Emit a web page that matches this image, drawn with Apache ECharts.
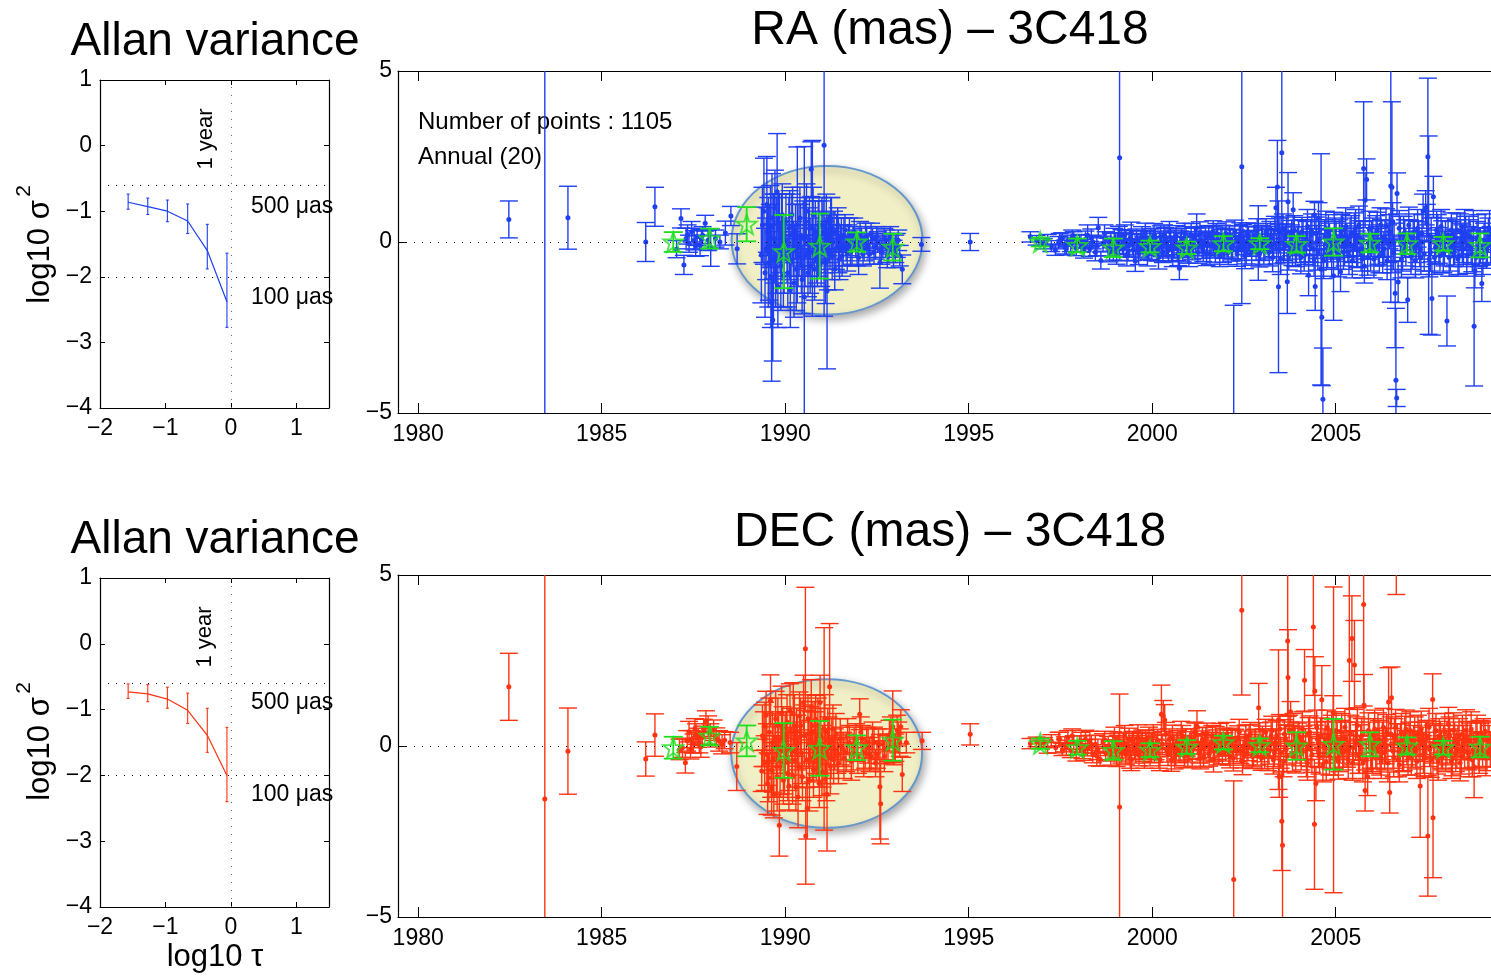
<!DOCTYPE html>
<html><head><meta charset="utf-8">
<script src="https://cdn.jsdelivr.net/npm/echarts@6/dist/echarts.min.js"></script>
<style>html,body{margin:0;padding:0;background:#fff}#c{width:1491px;height:978px}</style>
</head><body><div id="c"></div>
<script>
const FONT = '"Liberation Sans", Arial, Helvetica, sans-serif';

// ---------- Allan variance panels ----------
const allanTau   = [-1.57, -1.27, -0.97, -0.66, -0.36, -0.06];
const raAllanV   = [-0.864, -0.93, -1.00, -1.15, -1.60, -2.38];
const raAllanLo  = [-0.97, -1.05, -1.16, -1.34, -1.88, -2.77];
const raAllanHi  = [-0.74, -0.80, -0.83, -0.89, -1.20, -1.64];
const decAllanV  = [-0.73, -0.76, -0.84, -1.01, -1.39, -2.00];
const decAllanLo = [-0.83, -0.88, -0.98, -1.21, -1.65, -2.40];
const decAllanHi = [-0.61, -0.62, -0.66, -0.75, -0.98, -1.27];
const allanXTicks = [-2, -1, 0, 1];
const allanRefLevels = [-0.6, -2];   // 500 uas, 100 uas
const yearTicks = [1980, 1985, 1990, 1995, 2000, 2005];

// ---------- RA time series: [year, value(mas), error(mas)] ----------
const raEarly = [
[1982.47,0.66,0.54],[1983.45,-7.0,14.0],[1984.08,0.71,0.92],[1986.20,0.00,0.57],[1986.45,1.03,0.57],
[1987.04,-0.21,0.25],[1987.16,0.69,0.28],[1987.24,-0.67,0.28],[1987.30,0.10,0.30],[1987.38,-0.05,0.25],
[1987.45,0.30,0.30],[1987.52,0.05,0.28],[1987.60,0.15,0.25],[1987.68,-0.10,0.30],[1987.75,0.20,0.25],
[1987.82,0.55,0.23],[1987.90,0.05,0.30],[1987.97,-0.16,0.55],[1988.10,0.10,0.25],[1988.22,0.00,0.20],
[1988.37,0.26,0.35],[1988.52,0.76,0.28],[1988.69,-0.20,0.44],[1987.34,0.22,0.28],[1987.56,-0.12,0.3],[1987.72,0.08,0.28]
];
const raMid = [
[1989.35,-0.38,1.40],[1989.42,0.90,1.55],[1989.48,-0.20,0.90],[1989.52,0.30,0.70],[1989.56,-0.60,1.10],
[1989.60,0.45,1.20],[1989.63,-1.77,2.30],[1989.66,-2.28,1.20],[1989.70,0.10,1.30],[1989.74,-0.90,1.00],
[1989.78,1.47,1.70],[1989.82,0.60,0.80],[1989.86,-0.30,0.60],[1989.90,0.20,1.20],[1989.95,-1.00,0.90],
[1990.00,0.00,0.50],[1990.05,-0.50,0.70],[1990.10,0.40,0.90],[1990.14,-1.40,1.10],[1990.18,0.80,0.60],
[1990.22,-0.20,0.80],[1990.26,0.10,0.40],[1990.30,-0.80,1.20],[1990.33,0.50,2.28],[1990.38,-0.40,0.60],
[1990.42,0.20,0.90],[1990.46,-1.10,1.00],[1990.52,-1.61,4.40],[1990.56,0.60,0.70],[1990.60,-0.30,0.50],
[1990.64,0.00,1.00],[1990.68,-0.70,0.80],[1990.71,2.13,0.80],[1990.74,0.40,2.57],[1990.78,-0.10,0.60],
[1990.82,0.30,0.90],[1990.86,-0.50,0.70],[1990.90,0.10,1.10],[1990.95,-0.20,0.40],[1991.00,0.50,0.80],
[1991.06,2.83,5.00],[1991.10,-0.60,1.20],[1991.14,-1.43,2.28],[1991.18,0.20,0.60],[1991.22,-0.30,0.50],
[1991.26,0.40,0.90],[1991.30,0.00,0.70],[1991.35,-0.80,0.60],[1991.40,0.30,0.50],[1991.45,-0.10,0.80],
[1991.50,0.10,0.40],[1991.55,-0.40,0.60],[1991.60,0.20,0.50],[1991.66,-0.20,0.35],[1991.72,0.05,0.45],
[1991.78,-0.30,0.40],[1991.85,0.15,0.30],[1991.92,-0.10,0.35],[1992.00,-0.45,0.50],[1992.08,0.10,0.30],
[1992.15,-0.20,0.35],[1992.22,0.05,0.40],[1992.30,-0.35,0.30],[1992.38,0.10,0.30],[1992.46,-0.15,0.35],
[1992.52,0.00,0.30],[1992.58,-0.60,0.75],[1992.66,-0.10,0.35],[1992.74,0.05,0.30],[1992.82,-0.25,0.35],
[1992.90,-0.05,0.30],[1993.00,-0.20,0.40],[1993.08,0.05,0.30],[1993.19,-0.80,0.42],[1993.71,-0.07,0.20],
[1995.04,0.00,0.25]
];
const raMid2 = [
[1989.38,0.5,1.1],[1989.45,-0.9,1.3],[1989.5,1.1,1.4],[1989.54,-0.3,1.6],[1989.58,0.2,0.9],[1989.61,-1.0,1.5],
[1989.64,0.7,1.3],[1989.68,-0.5,1.9],[1989.72,1.0,1.1],[1989.76,-0.1,1.4],[1989.8,-1.3,1.2],[1989.84,0.4,1.0],
[1989.88,-0.7,1.3],[1989.92,0.8,0.9],[1989.97,-0.4,1.1],[1990.02,0.6,0.8],[1990.07,-0.9,1.0],[1990.12,0.2,1.3],
[1990.16,-0.6,0.9],[1990.2,0.5,1.1],[1990.24,-1.2,1.0],[1990.28,0.3,0.8],[1990.35,-0.1,1.2],[1990.4,0.7,0.9],
[1990.44,-0.7,0.8],[1990.49,0.1,1.1],[1990.54,-0.4,0.9],[1990.58,0.9,0.8],[1990.62,-0.9,0.7],[1990.66,0.4,0.9],
[1990.7,-0.3,1.0],[1990.76,0.8,0.8],[1990.8,-0.8,0.9],[1990.84,0.2,0.7],[1990.88,-0.4,0.9],[1990.92,0.5,0.8],
[1990.98,-0.6,0.7],[1991.03,0.3,0.9],[1991.08,-0.2,0.7],[1991.12,0.6,0.8],[1991.16,-0.5,0.9],[1991.2,0.1,0.7],
[1991.24,0.7,0.6],[1991.28,-0.4,0.7],[1991.33,0.3,0.6],[1991.38,-0.2,0.6],[1991.43,0.5,0.5],[1991.48,-0.5,0.6],
[1991.53,0.2,0.5],[1991.58,-0.1,0.6],[1991.63,0.35,0.45],[1991.69,-0.35,0.5],[1991.75,0.25,0.45],[1991.82,-0.15,0.5],
[1991.88,0.3,0.4],[1991.96,-0.25,0.45],[1992.04,0.2,0.4],[1992.12,-0.35,0.35],[1992.19,0.15,0.4],[1992.26,-0.1,0.35],
[1992.34,0.25,0.3],[1992.42,-0.3,0.35],[1992.49,0.15,0.3],[1992.62,-0.3,0.35],[1992.7,0.1,0.3],[1992.78,-0.4,0.35],
[1992.86,0.15,0.3],[1992.95,-0.35,0.4],[1993.04,-0.1,0.35],[1993.12,-0.4,0.3]
];
const raLate = [
[1996.68,0.15,0.15],[1996.85,0.05,0.14],[1996.95,0.00,0.12],
[1997.05,-0.05,0.15],[1997.15,0.08,0.14],[1997.25,-0.12,0.16],[1997.36,-0.24,0.15],[1997.45,-0.02,0.18],[1997.55,0.10,0.17],[1997.62,-0.15,0.20],[1997.70,0.04,0.16],[1997.78,-0.08,0.20],[1997.86,0.12,0.18],[1997.93,-0.18,0.22],
[1998.02,0.02,0.20],[1998.10,-0.10,0.18],[1998.18,0.08,0.24],[1998.24,0.20,0.30],[1998.30,-0.20,0.22],[1998.38,0.00,0.20],[1998.45,-0.30,0.25],[1998.53,0.42,0.30],[1998.60,-0.54,0.25],[1998.66,-0.05,0.22],[1998.73,0.10,0.20],[1998.80,-0.15,0.26],[1998.87,0.05,0.22],[1998.94,-0.25,0.28],
[1999.00,0.00,0.25],[1999.06,-0.12,0.22],[1999.11,2.46,3.00],[1999.16,0.10,0.26],[1999.22,-0.20,0.24],[1999.28,0.05,0.28],[1999.34,-0.30,0.25],[1999.40,0.12,0.22],[1999.46,-0.08,0.30],[1999.54,-0.56,0.30],[1999.60,0.00,0.25],[1999.66,-0.18,0.26],[1999.72,0.15,0.30],[1999.78,-0.10,0.24],[1999.84,0.05,0.28],[1999.90,-0.25,0.26],[1999.96,0.08,0.30],
[2000.02,-0.12,0.28],[2000.08,0.10,0.30],[2000.14,-0.30,0.26],[2000.20,0.00,0.32],[2000.26,-0.15,0.28],[2000.32,0.20,0.30],[2000.38,-0.05,0.34],[2000.44,-0.25,0.30],[2000.50,0.12,0.28],[2000.56,-0.40,0.32],[2000.62,0.05,0.30],[2000.68,-0.20,0.34],[2000.74,-0.77,0.33],[2000.80,0.10,0.30],[2000.86,-0.10,0.36],[2000.92,0.15,0.30],[2000.97,-0.30,0.32],
[2001.03,0.00,0.30],[2001.09,-0.18,0.34],[2001.15,0.12,0.32],[2001.21,0.42,0.40],[2001.27,-0.10,0.30],[2001.33,0.05,0.36],[2001.39,-0.25,0.32],[2001.45,0.15,0.30],[2001.51,-0.05,0.34],[2001.57,-0.35,0.30],[2001.63,0.10,0.36],[2001.69,-0.15,0.32],[2001.75,0.20,0.34],[2001.81,-0.08,0.30],[2001.87,0.00,0.36],[2001.93,-0.28,0.32],[2001.98,0.10,0.30],
[2002.04,-0.10,0.34],[2002.10,0.15,0.32],[2002.16,-0.20,0.36],[2002.22,-6.20,4.35],[2002.28,0.05,0.30],[2002.34,-0.15,0.34],[2002.40,0.20,0.36],[2002.44,2.20,4.00],[2002.50,-0.05,0.32],[2002.56,-0.30,0.34],[2002.62,0.10,0.36],[2002.68,-0.12,0.30],[2002.74,0.00,0.34],[2002.80,0.18,0.36],[2002.89,-0.03,1.09],[2002.95,-0.20,0.34],
[2003.01,0.05,0.36],[2003.07,-0.15,0.38],[2003.13,0.20,0.34],[2003.19,-0.30,0.40],[2003.25,0.10,0.36],[2003.31,-0.05,0.38],[2003.37,1.00,0.60],[2003.41,1.61,1.36],[2003.44,-1.31,2.51],[2003.48,0.30,0.40],[2003.53,2.61,2.60],[2003.58,-0.20,0.40],[2003.63,0.15,0.38],[2003.68,-1.16,0.93],[2003.70,1.18,0.85],[2003.75,-0.10,0.40],[2003.80,0.25,0.38],[2003.84,0.94,0.50],[2003.90,-0.30,0.42],[2003.96,0.05,0.40],
[2004.02,-0.15,0.45],[2004.08,0.30,0.42],[2004.14,-0.40,0.45],[2004.20,0.10,0.50],[2004.26,-0.97,0.60],[2004.32,0.20,0.45],[2004.38,-0.20,0.50],[2004.42,0.79,0.40],[2004.44,-1.30,0.70],[2004.48,0.00,0.48],[2004.53,0.70,0.45],[2004.60,-0.80,3.38],[2004.62,-2.20,2.00],[2004.65,-4.60,1.50],[2004.70,0.15,0.50],[2004.75,-0.35,0.45],[2004.80,0.30,0.50],[2004.86,-0.10,0.48],[2004.94,-0.99,1.30],[2004.98,0.20,0.50],
[2005.04,-0.30,0.50],[2005.10,0.10,0.55],[2005.13,-0.87,0.58],[2005.18,0.35,0.50],[2005.24,-0.15,0.55],[2005.30,0.05,0.50],[2005.36,-0.40,0.55],[2005.42,0.25,0.52],[2005.48,-0.10,0.50],[2005.54,0.40,0.55],[2005.60,-0.25,0.50],[2005.66,0.10,0.52],[2005.72,-0.50,0.55],[2005.76,2.15,1.95],[2005.78,-0.70,0.50],[2005.80,1.22,0.80],[2005.84,1.83,0.60],[2005.90,0.00,0.50],[2005.95,-0.30,0.55],
[2006.01,0.20,0.50],[2006.07,-0.15,0.55],[2006.13,0.35,0.52],[2006.19,-0.40,0.50],[2006.25,0.10,0.55],[2006.31,-0.20,0.50],[2006.37,0.45,0.52],[2006.43,-0.05,0.55],[2006.50,1.64,3.40],[2006.53,1.60,2.50],[2006.57,-0.30,0.50],[2006.62,-1.50,1.59],[2006.64,-4.04,2.10],[2006.66,-4.56,0.25],[2006.67,1.42,0.60],[2006.70,-1.17,0.60],[2006.76,0.20,0.55],[2006.82,-0.35,0.50],[2006.88,0.10,0.55],[2006.96,-1.69,0.66],
[2007.02,0.15,0.50],[2007.08,-0.25,0.55],[2007.14,0.30,0.52],[2007.20,-0.10,0.50],[2007.26,0.05,0.55],[2007.32,-0.45,0.50],[2007.38,0.90,0.50],[2007.45,1.00,0.50],[2007.51,2.49,2.30],[2007.53,0.20,2.90],[2007.58,-0.30,0.55],[2007.62,-1.65,1.07],[2007.66,1.32,0.60],[2007.72,-0.15,0.50],[2007.78,0.25,0.55],[2007.84,-0.40,0.50],[2007.90,0.10,0.52],[2007.96,-0.20,0.50],
[2008.03,-2.31,0.73],[2008.06,0.20,0.50],[2008.12,-0.30,0.55],[2008.18,0.10,0.50],[2008.24,-0.15,0.52],[2008.30,0.35,0.50],[2008.36,-0.40,0.55],[2008.42,0.05,0.50],[2008.48,-0.20,0.52],[2008.54,0.25,0.50],[2008.60,-0.10,0.55],[2008.66,0.15,0.50],[2008.72,-0.35,0.52],[2008.77,-2.46,1.75],[2008.79,-0.84,0.50],[2008.85,0.10,0.50],[2008.91,-0.20,0.52],[2008.98,-1.21,0.53],
[2009.04,0.05,0.50],[2009.10,-0.25,0.52],[2009.16,0.20,0.50],[2009.22,-0.10,0.55]
];
const raLate2 = [
[1997.48,0.05,0.2],[1997.66,-0.2,0.18],[1997.82,0.15,0.2],[1998.06,-0.05,0.25],[1998.14,-0.25,0.22],[1998.34,0.12,0.26],[1998.49,-0.12,0.28],[1998.7,0.25,0.25],[1998.84,-0.3,0.28],[1998.97,0.1,0.3],
[1999.03,-0.35,0.3],[1999.09,0.18,0.28],[1999.19,-0.05,0.32],[1999.25,0.2,0.3],[1999.31,-0.4,0.3],[1999.37,-0.1,0.34],[1999.43,0.28,0.3],[1999.49,-0.22,0.32],[1999.57,0.08,0.3],[1999.63,-0.32,0.34],[1999.69,0.02,0.3],[1999.75,-0.15,0.32],[1999.81,0.25,0.3],[1999.87,-0.38,0.32],[1999.93,0.0,0.3],[1999.99,-0.2,0.34],
[2000.05,0.22,0.32],[2000.11,-0.05,0.3],[2000.17,-0.45,0.34],[2000.23,0.15,0.32],[2000.29,-0.3,0.3],[2000.35,0.08,0.34],[2000.41,-0.15,0.32],[2000.47,0.3,0.3],[2000.53,-0.2,0.36],[2000.59,-0.05,0.32],[2000.65,0.18,0.3],[2000.71,-0.35,0.34],[2000.77,0.0,0.32],[2000.83,-0.22,0.36],[2000.89,0.25,0.3],[2000.95,-0.1,0.34],
[2001.0,-0.4,0.32],[2001.06,0.2,0.34],[2001.12,-0.1,0.3],[2001.18,0.05,0.36],[2001.24,-0.3,0.32],[2001.3,0.25,0.34],[2001.36,-0.12,0.36],[2001.42,0.0,0.32],[2001.48,-0.35,0.34],[2001.54,0.18,0.3],[2001.6,-0.08,0.36],[2001.66,0.3,0.32],[2001.72,-0.25,0.34],[2001.78,0.05,0.36],[2001.84,-0.4,0.32],[2001.9,0.15,0.34],[2001.96,-0.12,0.36],
[2002.01,0.25,0.34],[2002.07,-0.3,0.36],[2002.13,0.05,0.32],[2002.19,-0.12,0.38],[2002.25,0.3,0.34],[2002.31,-0.35,0.36],[2002.37,0.1,0.38],[2002.43,-0.2,0.34],[2002.47,0.15,0.36],[2002.53,-0.4,0.38],[2002.59,0.22,0.34],[2002.65,-0.05,0.36],[2002.71,-0.3,0.38],[2002.77,0.1,0.34],[2002.83,-0.15,0.38],[2002.86,0.32,0.36],[2002.92,-0.35,0.38],[2002.98,0.12,0.36],
[2003.04,-0.25,0.4],[2003.1,0.3,0.38],[2003.16,-0.05,0.42],[2003.22,0.2,0.4],[2003.28,-0.45,0.42],[2003.34,0.35,0.4],[2003.39,-0.2,0.44],[2003.46,0.1,0.42],[2003.5,-0.5,0.45],[2003.56,0.4,0.42],[2003.6,-0.1,0.44],[2003.66,0.28,0.45],[2003.72,-0.4,0.42],[2003.78,0.05,0.45],[2003.82,-0.25,0.44],[2003.87,0.35,0.42],[2003.93,-0.15,0.45],[2003.99,0.2,0.44],
[2004.05,-0.45,0.48],[2004.11,0.15,0.5],[2004.17,-0.2,0.46],[2004.23,0.45,0.5],[2004.29,-0.1,0.48],[2004.35,0.3,0.52],[2004.41,-0.5,0.5],[2004.46,0.25,0.48],[2004.51,-0.3,0.52],[2004.56,0.1,0.5],[2004.67,-0.55,0.52],[2004.73,0.4,0.5],[2004.78,-0.2,0.55],[2004.83,0.05,0.5],[2004.89,-0.45,0.55],[2004.96,0.35,0.52],
[2005.01,0.05,0.55],[2005.07,-0.5,0.52],[2005.15,0.25,0.55],[2005.21,-0.3,0.5],[2005.27,0.45,0.55],[2005.33,-0.05,0.52],[2005.39,0.15,0.55],[2005.45,-0.55,0.5],[2005.51,0.3,0.55],[2005.57,-0.2,0.52],[2005.63,0.5,0.55],[2005.69,-0.35,0.5],[2005.75,0.05,0.55],[2005.87,-0.45,0.52],[2005.92,0.35,0.55],[2005.98,0.1,0.52],
[2006.04,-0.5,0.55],[2006.1,0.25,0.52],[2006.16,-0.1,0.55],[2006.22,0.5,0.5],[2006.28,-0.35,0.55],[2006.34,0.1,0.52],[2006.4,-0.55,0.55],[2006.46,0.3,0.5],[2006.55,0.6,0.55],[2006.59,0.0,0.55],[2006.73,0.4,0.52],[2006.79,-0.5,0.55],[2006.85,0.25,0.5],[2006.91,-0.15,0.55],[2006.99,0.5,0.52],
[2007.05,-0.4,0.55],[2007.11,0.1,0.52],[2007.17,-0.55,0.5],[2007.23,0.4,0.55],[2007.29,-0.2,0.52],[2007.35,0.25,0.55],[2007.41,-0.35,0.5],[2007.48,0.55,0.55],[2007.55,-0.5,0.52],[2007.6,0.15,0.55],[2007.69,-0.45,0.5],[2007.75,0.35,0.55],[2007.81,-0.1,0.52],[2007.87,0.45,0.5],[2007.93,-0.35,0.55],[2007.99,0.1,0.52],
[2008.09,-0.45,0.55],[2008.15,0.35,0.5],[2008.21,-0.2,0.52],[2008.27,0.1,0.55],[2008.33,-0.5,0.5],[2008.39,0.3,0.52],[2008.45,-0.05,0.55],[2008.51,0.45,0.5],[2008.57,-0.4,0.52],[2008.63,0.2,0.55],[2008.69,-0.15,0.5],[2008.75,0.4,0.52],[2008.82,-0.45,0.55],[2008.88,0.3,0.5],[2008.94,-0.1,0.52],
[2009.01,-0.45,0.5],[2009.07,0.3,0.52],[2009.13,-0.1,0.5],[2009.19,0.4,0.52]
];
const raAnnual = [
[1986.95,0.00,0.29],[1987.94,0.10,0.29],[1988.95,0.52,0.50],[1989.96,-0.28,1.07],[1990.94,-0.12,0.95],
[1991.95,0.00,0.28],[1992.93,-0.15,0.39],[1996.95,0.00,0.13],[1997.96,-0.10,0.20],[1998.94,-0.17,0.27],
[1999.94,-0.13,0.17],[2000.94,-0.17,0.18],[2001.94,-0.05,0.22],[2002.93,-0.05,0.16],[2003.93,-0.07,0.24],
[2004.94,0.00,0.40],[2005.93,-0.03,0.27],[2006.94,-0.05,0.30],[2007.93,-0.05,0.20],[2008.93,-0.10,0.35]
];

// ---------- DEC time series: [year, value(mas), error(mas)] ----------
const decEarly = [
[1982.47,1.73,0.98],[1983.45,-1.55,8.0],[1984.08,-0.15,1.26],[1986.20,-0.38,0.50],[1986.45,0.32,0.62],
[1987.12,-0.10,0.30],[1987.20,-0.05,0.28],[1987.28,-0.49,0.30],[1987.38,0.42,0.30],[1987.45,0.20,0.25],
[1987.50,0.07,0.28],[1987.57,0.35,0.30],[1987.63,0.24,0.28],[1987.70,-0.03,0.30],[1987.78,0.50,0.28],
[1987.84,0.73,0.30],[1987.90,0.58,0.30],[1988.05,0.46,0.30],[1988.20,0.15,0.30],[1988.35,0.17,0.25],
[1988.50,0.10,0.30],[1988.68,-0.60,0.70],[1987.33,0.15,0.3],[1987.42,-0.1,0.28],[1987.54,0.5,0.3],
[1987.66,0.1,0.3],[1987.74,0.3,0.28],[1987.96,0.35,0.3],[1988.12,0.25,0.28],[1988.28,0.05,0.28]
];
const decMid = [
[1989.36,-0.73,0.60],[1989.42,0.20,0.80],[1989.45,0.58,0.70],[1989.50,-0.25,0.90],[1989.55,-0.93,0.70],
[1989.60,1.32,0.76],[1989.63,-1.22,0.80],[1989.67,-0.35,1.00],[1989.72,0.25,0.70],[1989.76,-0.60,0.90],
[1989.80,0.60,0.80],[1989.84,-2.32,0.90],[1989.88,-0.15,0.80],[1989.93,0.55,0.60],[1989.98,-0.50,0.90],
[1990.03,0.30,0.70],[1990.07,-0.80,0.80],[1990.10,-1.17,0.70],[1990.13,1.02,0.80],[1990.18,-0.15,0.70],
[1990.22,0.95,0.90],[1990.27,-0.40,0.80],[1990.31,0.40,0.70],[1990.35,-1.49,0.90],[1990.39,0.88,0.70],
[1990.44,-0.20,0.90],[1990.50,1.27,0.80],[1990.55,2.84,1.80],[1990.56,-2.63,1.41],[1990.60,-1.82,0.90],
[1990.64,0.05,0.70],[1990.68,0.35,0.80],[1990.71,1.14,0.80],[1990.75,-0.35,0.70],[1990.79,0.40,0.90],
[1990.83,0.78,0.70],[1990.87,-0.05,0.80],[1990.91,-0.60,0.60],[1990.95,1.27,0.80],[1991.00,-0.75,0.70],
[1991.06,0.50,2.96],[1991.10,-0.30,0.80],[1991.14,-1.41,1.66],[1991.18,0.15,0.70],[1991.21,1.73,1.85],
[1991.25,-0.35,0.60],[1991.30,0.50,0.70],[1991.35,-0.10,0.60],[1991.42,-0.30,0.50],[1991.50,0.20,0.60],
[1991.58,-0.10,0.50],[1991.66,-0.20,0.55],[1991.75,0.10,0.50],[1991.85,-0.20,0.50],[1991.93,0.20,0.45],
[1992.03,0.93,0.45],[1992.10,0.20,0.40],[1992.18,-0.20,0.45],[1992.26,0.00,0.50],[1992.34,-0.30,0.40],
[1992.42,0.10,0.45],[1992.50,-0.25,0.40],[1992.58,-1.19,1.53],[1992.60,-1.69,1.17],[1992.66,0.05,0.45],
[1992.75,-0.10,0.40],[1992.84,0.30,0.45],[1992.93,0.56,1.05],[1993.00,-0.05,0.40],[1993.08,0.25,0.45],
[1993.15,0.56,0.50],[1993.19,-0.83,0.50],[1993.30,0.10,0.30],[1993.73,0.15,0.25],[1995.04,0.34,0.31]
];
const decMid2 = [
[1989.38,0.3,0.9],[1989.44,-0.5,0.8],[1989.48,0.9,0.7],[1989.52,-1.1,0.9],[1989.57,0.4,1.0],[1989.62,-0.7,0.8],
[1989.65,0.1,0.9],[1989.69,-1.4,0.7],[1989.74,0.8,0.8],[1989.78,-0.9,1.0],[1989.82,0.2,0.7],[1989.86,-0.6,0.9],
[1989.9,0.95,0.8],[1989.95,-1.0,0.7],[1990.0,0.1,0.9],[1990.05,0.7,0.8],[1990.09,-0.4,0.9],[1990.15,0.4,0.7],
[1990.2,-0.9,0.8],[1990.25,0.6,0.9],[1990.29,-1.2,0.7],[1990.33,0.1,0.8],[1990.37,-0.6,0.9],[1990.42,0.6,0.8],
[1990.47,-0.9,0.7],[1990.52,0.3,0.9],[1990.58,-0.4,0.8],[1990.62,0.8,0.7],[1990.66,-1.0,0.9],[1990.7,0.2,0.8],
[1990.73,0.6,0.7],[1990.77,-0.7,0.8],[1990.81,0.1,0.9],[1990.85,-0.3,0.7],[1990.89,0.6,0.8],[1990.93,-1.1,0.7],
[1990.97,0.3,0.8],[1991.02,-0.3,0.9],[1991.08,0.8,0.7],[1991.12,-0.8,0.8],[1991.16,0.4,0.7],[1991.23,-0.6,0.8],
[1991.27,0.2,0.6],[1991.32,-0.4,0.7],[1991.38,0.35,0.6],[1991.45,-0.5,0.6],[1991.52,0.0,0.55],[1991.6,-0.35,0.6],
[1991.7,0.3,0.5],[1991.8,-0.45,0.55],[1991.88,0.05,0.5],[1991.98,-0.3,0.5],[1992.06,0.4,0.45],[1992.14,-0.4,0.5],
[1992.22,0.1,0.45],[1992.3,-0.25,0.5],[1992.38,0.25,0.45],[1992.46,-0.5,0.4],[1992.54,0.05,0.45],[1992.7,-0.3,0.45],
[1992.8,-0.05,0.4],[1992.88,0.4,0.45],[1992.97,-0.15,0.4],[1993.05,0.45,0.45],[1993.12,0.1,0.4]
];
const decLate = [
[1996.68,0.07,0.15],[1996.85,0.12,0.14],[1996.95,0.05,0.12],
[1997.05,0.10,0.15],[1997.15,-0.05,0.16],[1997.25,0.15,0.18],[1997.37,-0.05,0.15],[1997.45,0.20,0.20],[1997.55,-0.10,0.18],[1997.62,0.05,0.22],[1997.70,0.25,0.20],[1997.78,-0.12,0.22],[1997.86,0.10,0.20],[1997.93,-0.20,0.24],
[1998.02,0.05,0.24],[1998.10,-0.15,0.22],[1998.18,0.20,0.26],[1998.24,-0.05,0.24],[1998.30,0.15,0.28],[1998.38,-0.25,0.24],[1998.45,0.05,0.26],[1998.52,-0.10,0.30],[1998.58,-0.39,0.20],[1998.66,0.10,0.26],[1998.73,-0.20,0.24],[1998.80,0.00,0.28],[1998.87,-0.30,0.26],[1998.94,0.12,0.30],
[1999.00,-0.10,0.28],[1999.06,0.05,0.26],[1999.11,-1.78,3.30],[1999.16,-0.20,0.30],[1999.22,0.10,0.28],[1999.28,-0.25,0.30],[1999.34,0.00,0.26],[1999.40,-0.35,0.30],[1999.46,0.15,0.28],[1999.52,-0.10,0.30],[1999.58,0.05,0.26],[1999.64,-0.28,0.30],[1999.70,0.12,0.28],[1999.76,-0.15,0.30],[1999.82,0.20,0.26],[1999.88,-0.05,0.30],[1999.94,-0.30,0.28],
[2000.00,0.10,0.30],[2000.06,-0.20,0.28],[2000.12,0.00,0.32],[2000.18,-0.35,0.30],[2000.25,0.93,0.85],[2000.30,0.88,0.45],[2000.34,0.76,0.45],[2000.40,-0.15,0.32],[2000.46,0.20,0.30],[2000.52,-0.40,0.34],[2000.58,0.05,0.30],[2000.64,-0.25,0.32],[2000.70,0.15,0.30],[2000.76,-0.10,0.34],[2000.82,0.30,0.30],[2000.88,-0.30,0.32],[2000.94,0.00,0.30],
[2001.00,-0.15,0.32],[2001.06,0.20,0.30],[2001.12,-0.05,0.34],[2001.18,0.35,0.32],[2001.22,0.58,0.45],[2001.28,-0.20,0.30],[2001.34,0.10,0.34],[2001.40,-0.30,0.32],[2001.46,0.25,0.30],[2001.52,0.00,0.34],[2001.58,-0.15,0.32],[2001.64,0.30,0.30],[2001.70,-0.10,0.34],[2001.76,0.15,0.32],[2001.82,-0.25,0.30],[2001.88,0.05,0.34],[2001.94,0.20,0.32],
[2002.00,-0.10,0.34],[2002.06,0.15,0.32],[2002.12,-0.30,0.34],[2002.18,0.10,0.36],[2002.22,-3.90,2.88],[2002.28,-0.05,0.32],[2002.34,0.25,0.34],[2002.40,-0.15,0.36],[2002.44,3.97,2.48],[2002.46,-0.44,0.40],[2002.52,0.10,0.34],[2002.58,-0.20,0.36],[2002.64,0.30,0.32],[2002.70,0.00,0.34],[2002.76,-0.25,0.36],[2002.82,0.15,0.34],[2002.90,1.12,0.71],[2002.95,-0.10,0.36],
[2003.00,0.20,0.38],[2003.06,-0.30,0.36],[2003.12,0.05,0.40],[2003.18,-0.15,0.38],[2003.24,0.30,0.40],[2003.30,-0.40,0.42],[2003.36,0.10,0.40],[2003.44,0.77,2.04],[2003.46,-0.90,0.60],[2003.50,-0.20,0.45],[2003.53,-2.20,1.44],[2003.55,-2.90,2.50],[2003.60,0.35,0.42],[2003.65,-0.10,0.45],[2003.69,3.07,2.20],[2003.70,2.00,1.40],[2003.77,1.00,0.30],[2003.82,-0.30,0.45],[2003.88,0.15,0.42],[2003.94,-0.05,0.45],
[2004.00,0.25,0.45],[2004.06,-0.20,0.50],[2004.12,0.10,0.48],[2004.15,1.92,0.90],[2004.20,-0.40,0.50],[2004.26,0.35,0.48],[2004.32,-0.10,0.50],[2004.39,3.48,2.00],[2004.42,-2.29,1.90],[2004.43,1.61,1.00],[2004.46,-1.10,0.50],[2004.50,0.20,0.50],[2004.56,-0.30,0.52],[2004.62,1.35,1.00],[2004.68,0.00,0.50],[2004.74,-0.45,0.55],[2004.80,0.30,0.50],[2004.86,-0.15,0.52],[2004.93,0.97,0.50],[2004.94,0.18,4.47],[2004.98,-0.35,0.50],
[2005.04,0.15,0.55],[2005.10,-0.25,0.50],[2005.16,0.40,0.55],[2005.22,-0.10,0.52],[2005.28,0.20,0.50],[2005.34,-0.40,0.55],[2005.37,2.50,3.00],[2005.44,3.14,1.25],[2005.48,-0.05,0.50],[2005.51,2.37,1.30],[2005.56,0.30,0.55],[2005.62,-0.30,0.50],[2005.68,0.10,0.52],[2005.74,-0.50,0.55],[2005.76,4.14,2.97],[2005.77,1.19,0.90],[2005.80,-1.30,0.60],[2005.87,-0.90,0.55],[2005.92,0.20,0.50],[2005.97,-0.20,0.55],
[2006.03,0.30,0.50],[2006.09,-0.10,0.55],[2006.15,0.45,0.52],[2006.21,-0.35,0.50],[2006.27,0.15,0.55],[2006.33,-0.20,0.50],[2006.39,0.40,0.52],[2006.44,1.29,1.00],[2006.47,-1.36,0.60],[2006.52,1.41,0.90],[2006.56,-0.15,0.50],[2006.60,0.25,0.55],[2006.65,6.50,2.07],[2006.70,-0.40,0.50],[2006.76,0.10,0.55],[2006.82,-0.25,0.50],[2006.88,0.35,0.52],[2006.94,-0.05,0.50],
[2007.00,0.20,0.50],[2007.06,-0.30,0.55],[2007.12,0.10,0.50],[2007.18,-0.15,0.52],[2007.24,0.40,0.50],[2007.30,-1.17,1.50],[2007.36,0.05,0.50],[2007.42,-0.35,0.55],[2007.48,0.25,0.50],[2007.51,-2.63,1.76],[2007.56,-0.10,0.50],[2007.64,1.36,0.75],[2007.65,-2.10,1.75],[2007.70,0.15,0.50],[2007.76,-0.30,0.52],[2007.82,0.30,0.50],[2007.88,-0.10,0.55],[2007.94,0.10,0.50],
[2008.00,-0.25,0.50],[2008.07,0.63,0.50],[2008.12,0.00,0.50],[2008.18,-0.35,0.52],[2008.24,0.20,0.50],[2008.30,-0.10,0.55],[2008.36,0.30,0.50],[2008.42,-0.30,0.52],[2008.48,0.10,0.50],[2008.55,0.46,0.60],[2008.60,-0.20,0.50],[2008.66,0.15,0.52],[2008.72,-0.40,0.50],[2008.77,-0.61,0.90],[2008.82,0.20,0.50],[2008.88,-0.15,0.52],[2008.94,0.25,0.50],
[2009.00,-0.10,0.50],[2009.07,0.43,0.30],[2009.12,-0.20,0.52],[2009.18,0.10,0.50]
];
const decLate2 = [
[1997.48,0.2,0.2],[1997.66,-0.05,0.22],[1997.82,0.3,0.2],[1998.06,0.15,0.25],[1998.14,-0.2,0.22],[1998.34,0.05,0.26],[1998.49,-0.3,0.28],[1998.7,0.18,0.25],[1998.84,-0.12,0.28],[1998.97,0.25,0.3],
[1999.03,-0.3,0.3],[1999.09,0.1,0.28],[1999.19,-0.12,0.32],[1999.25,0.3,0.3],[1999.31,-0.05,0.3],[1999.37,0.18,0.34],[1999.43,-0.42,0.3],[1999.49,0.05,0.32],[1999.55,-0.2,0.3],[1999.61,0.28,0.34],[1999.67,-0.08,0.3],[1999.73,0.15,0.32],[1999.79,-0.35,0.3],[1999.85,0.05,0.32],[1999.91,0.25,0.3],[1999.97,-0.15,0.34],
[2000.03,0.3,0.32],[2000.09,-0.1,0.3],[2000.15,0.15,0.34],[2000.21,-0.4,0.32],[2000.27,0.05,0.3],[2000.37,0.35,0.34],[2000.43,-0.25,0.32],[2000.49,0.0,0.3],[2000.55,0.25,0.36],[2000.61,-0.35,0.32],[2000.67,0.1,0.3],[2000.73,-0.15,0.34],[2000.79,0.4,0.32],[2000.85,-0.05,0.36],[2000.91,0.2,0.3],[2000.97,-0.3,0.34],
[2001.03,0.1,0.32],[2001.09,-0.25,0.34],[2001.15,0.4,0.3],[2001.25,0.0,0.36],[2001.31,-0.35,0.32],[2001.37,0.2,0.34],[2001.43,-0.05,0.36],[2001.49,0.35,0.32],[2001.55,-0.25,0.34],[2001.61,0.1,0.3],[2001.67,-0.4,0.36],[2001.73,0.25,0.32],[2001.79,-0.05,0.34],[2001.85,0.3,0.36],[2001.91,-0.2,0.32],[2001.97,0.05,0.34],
[2002.03,0.35,0.34],[2002.09,-0.2,0.36],[2002.15,0.2,0.32],[2002.21,-0.35,0.38],[2002.26,0.15,0.34],[2002.31,-0.1,0.36],[2002.37,0.4,0.38],[2002.49,-0.3,0.34],[2002.55,0.25,0.36],[2002.61,-0.05,0.38],[2002.67,0.35,0.34],[2002.73,-0.3,0.36],[2002.79,0.1,0.38],[2002.86,-0.2,0.36],[2002.93,0.3,0.38],[2002.98,-0.35,0.36],
[2003.03,0.1,0.4],[2003.09,0.4,0.38],[2003.15,-0.3,0.42],[2003.21,0.05,0.4],[2003.27,0.45,0.42],[2003.33,-0.2,0.4],[2003.39,0.3,0.44],[2003.48,0.5,0.42],[2003.58,-0.45,0.45],[2003.63,0.2,0.42],[2003.67,-0.3,0.44],[2003.73,0.45,0.45],[2003.8,0.1,0.42],[2003.85,0.5,0.45],[2003.91,-0.35,0.44],[2003.97,0.25,0.42],
[2004.03,-0.1,0.48],[2004.09,0.5,0.5],[2004.18,0.05,0.46],[2004.23,-0.5,0.5],[2004.29,0.4,0.48],[2004.35,-0.25,0.52],[2004.48,0.55,0.5],[2004.53,-0.15,0.48],[2004.59,0.3,0.52],[2004.65,-0.55,0.5],[2004.71,0.2,0.52],[2004.77,0.55,0.5],[2004.83,-0.3,0.55],[2004.89,0.4,0.5],[2004.97,-0.1,0.55],
[2005.01,0.45,0.55],[2005.07,-0.45,0.52],[2005.13,0.2,0.55],[2005.19,-0.2,0.5],[2005.25,0.55,0.55],[2005.31,-0.1,0.52],[2005.4,0.35,0.55],[2005.46,-0.5,0.5],[2005.54,0.15,0.55],[2005.59,0.6,0.52],[2005.65,-0.25,0.55],[2005.71,0.3,0.5],[2005.83,-0.4,0.55],[2005.89,0.45,0.52],[2005.95,-0.1,0.55],
[2006.0,-0.3,0.5],[2006.06,0.5,0.55],[2006.12,-0.15,0.52],[2006.18,0.2,0.55],[2006.24,-0.45,0.5],[2006.3,0.55,0.55],[2006.36,0.0,0.52],[2006.42,-0.5,0.55],[2006.5,0.35,0.5],[2006.58,-0.35,0.55],[2006.63,0.55,0.52],[2006.68,0.1,0.55],[2006.73,-0.55,0.5],[2006.79,0.4,0.55],[2006.85,-0.2,0.52],[2006.91,0.5,0.55],[2006.97,-0.35,0.5],
[2007.03,0.45,0.55],[2007.09,-0.1,0.52],[2007.15,0.3,0.55],[2007.21,-0.45,0.5],[2007.27,0.15,0.55],[2007.33,0.5,0.52],[2007.39,-0.25,0.55],[2007.45,0.2,0.5],[2007.54,0.55,0.55],[2007.59,-0.4,0.52],[2007.67,0.05,0.55],[2007.73,0.45,0.5],[2007.79,-0.45,0.55],[2007.85,0.2,0.52],[2007.91,-0.2,0.5],[2007.97,0.4,0.55],
[2008.03,-0.05,0.5],[2008.1,0.3,0.55],[2008.15,-0.45,0.5],[2008.21,0.45,0.52],[2008.27,-0.2,0.55],[2008.33,0.1,0.5],[2008.39,-0.5,0.52],[2008.45,0.35,0.55],[2008.51,-0.15,0.5],[2008.58,0.2,0.52],[2008.63,-0.35,0.55],[2008.69,0.5,0.5],[2008.75,-0.1,0.52],[2008.85,0.35,0.55],[2008.91,-0.3,0.5],[2008.97,0.15,0.52],
[2009.03,0.3,0.5],[2009.09,-0.35,0.52],[2009.15,0.2,0.5],[2009.21,-0.1,0.52]
];
const decAnnual = [
[1986.95,-0.05,0.32],[1987.94,0.29,0.27],[1988.95,0.15,0.45],[1989.96,-0.13,0.80],[1990.94,-0.07,0.80],
[1991.95,-0.05,0.36],[1992.93,0.17,0.60],[1996.95,0.07,0.15],[1997.96,-0.05,0.20],[1998.94,-0.13,0.27],
[1999.94,-0.12,0.20],[2000.94,-0.03,0.20],[2001.94,0.10,0.20],[2002.93,0.02,0.20],[2003.93,0.00,0.40],
[2004.94,0.05,0.74],[2005.93,0.05,0.35],[2006.94,0.00,0.25],[2007.93,-0.05,0.20],[2008.93,-0.03,0.30]
];
// highlighted region (centre year, centre value, half-width years, half-height mas)
const raEllipse  = [1991.14, 0.05, 2.60, 2.17];
const decEllipse = [1991.13, -0.22, 2.60, 2.17];

// ---------- helpers ----------
const BLUE = '#1f3ff2', RED = '#ff3311', GREEN = '#1fe01f';
const minus = v => String(v).replace('-', '\u2212');
const T0 = 1979.45, T1 = 2009.23;

function errSym(color, capHalf, lw, dotR) {
  return function (params, api) {
    const t = api.value(0), v = api.value(1), e = api.value(2);
    const cs = params.coordSys;
    const p = api.coord([t, v]);
    const x = p[0];
    if (x < cs.x - 12 || x > cs.x + cs.width + 12) return null;
    const yTop = api.coord([t, v + e])[1];
    const yBot = api.coord([t, v - e])[1];
    const y0 = cs.y, y1 = cs.y + cs.height;
    const kids = [];
    const a = Math.max(yTop, y0), b = Math.min(yBot, y1);
    if (a < b) kids.push({type: 'line', shape: {x1: x, y1: a, x2: x, y2: b}, style: {stroke: color, lineWidth: lw}});
    [yTop, yBot].forEach(function (yy) {
      if (yy >= y0 && yy <= y1) kids.push({type: 'line', shape: {x1: x - capHalf, y1: yy, x2: x + capHalf, y2: yy}, style: {stroke: color, lineWidth: lw}});
    });
    if (dotR && p[1] >= y0 && p[1] <= y1) kids.push({type: 'circle', shape: {cx: x, cy: p[1], r: dotR}, style: {fill: color}});
    return {type: 'group', children: kids};
  };
}
function errLoHi(color) {
  return function (params, api) {
    const t = api.value(0), lo = api.value(1), hi = api.value(2);
    const a = api.coord([t, hi]), b = api.coord([t, lo]);
    const x = a[0];
    const st = {stroke: color, lineWidth: 1.1};
    return {type: 'group', children: [
      {type: 'line', shape: {x1: x, y1: a[1], x2: x, y2: b[1]}, style: st},
      {type: 'line', shape: {x1: x - 1.5, y1: a[1], x2: x + 1.5, y2: a[1]}, style: st},
      {type: 'line', shape: {x1: x - 1.5, y1: b[1], x2: x + 1.5, y2: b[1]}, style: st}
    ]};
  };
}
function ellipseRender(params, api) {
  const c = api.coord([api.value(0), api.value(1)]);
  const s = api.size([api.value(2), api.value(3)]);
  const rx = s[0], ry = s[1], cx = c[0], cy = c[1];
  return {type: 'path',
    shape: {pathData: 'M' + (cx - rx) + ',' + cy + ' A' + rx + ',' + ry + ' 0 1,0 ' + (cx + rx) + ',' + cy +
      ' A' + rx + ',' + ry + ' 0 1,0 ' + (cx - rx) + ',' + cy + ' Z',
      x: cx - rx, y: cy - ry, width: 2 * rx, height: 2 * ry, layout: 'cover'},
    style: {fill: '#f1efc6', stroke: '#6497cc', lineWidth: 2, shadowBlur: 8, shadowOffsetX: 2, shadowOffsetY: 4, shadowColor: 'rgba(0,0,0,0.35)'}};
}
const lineSt = {color: '#000', width: 1.2};
function mkX(gi, min, max, ticks, pos, labels, tl, mg) {
  return {gridIndex: gi, type: 'value', min: min, max: max, position: pos,
    axisLine: {show: true, onZero: false, lineStyle: lineSt},
    axisTick: {show: true, inside: true, length: tl, customValues: ticks, lineStyle: {color: '#000', width: 1}},
    axisLabel: {show: labels, customValues: ticks, margin: mg, fontSize: 23, fontFamily: FONT, color: '#000', formatter: minus},
    splitLine: {show: false}};
}
function mkY(gi, min, max, iv, pos, labels, tl, mg, showLine) {
  return {gridIndex: gi, type: 'value', min: min, max: max, interval: iv, position: pos,
    axisLine: {show: showLine, onZero: false, lineStyle: lineSt},
    axisTick: {show: showLine, inside: true, length: tl, lineStyle: {color: '#000', width: 1}},
    axisLabel: {show: labels, margin: mg, fontSize: 23, fontFamily: FONT, color: '#000', formatter: minus},
    splitLine: {show: false}};
}
const dotted = (data, col) => ({silent: true, symbol: ['none', 'none'], label: {show: false}, animation: false,
  lineStyle: {color: col || '#000', type: [1, 7], width: 1}, data: data});
const starPath = 'path://M12,0.5 L14.9,8.6 L23.5,8.6 L16.6,13.8 L19.1,22.1 L12,17.1 L4.9,22.1 L7.4,13.8 L0.5,8.6 L9.1,8.6 Z';

function allanSeries(xi, vals, lo, hi, color) {
  return [
    {type: 'line', xAxisIndex: xi, yAxisIndex: xi, data: allanTau.map((t, i) => [t, vals[i]]),
      showSymbol: false, lineStyle: {color: color, width: 1.2}, z: 3,
      markLine: dotted(allanRefLevels.map(v => ({yAxis: v})).concat([{xAxis: 0, lineStyle: {color: '#666'}}]))},
    {type: 'custom', xAxisIndex: xi, yAxisIndex: xi, data: allanTau.map((t, i) => [t, lo[i], hi[i]]),
      encode: {x: 0, y: [1, 2]}, renderItem: errLoHi(color), z: 3}
  ];
}
function tsSeries(xi, pts, ann, ell, color) {
  return [
    {type: 'custom', xAxisIndex: xi, yAxisIndex: xi, data: [ell], encode: {x: 0, y: 1}, renderItem: ellipseRender, z: 1, silent: true},
    {type: 'custom', xAxisIndex: xi, yAxisIndex: xi, data: pts, encode: {x: 0, y: 1}, renderItem: errSym(color, 9, 1.4, 2.5), z: 2, silent: true},
    {type: 'custom', xAxisIndex: xi, yAxisIndex: xi, data: ann, encode: {x: 0, y: 1}, renderItem: errSym(GREEN, 9.5, 1.8, 0), z: 4, silent: true},
    {type: 'scatter', xAxisIndex: xi, yAxisIndex: xi, data: ann.map(a => [a[0], a[1]]), symbol: starPath, symbolSize: 20,
      itemStyle: {color: 'rgba(0,0,0,0)', borderColor: GREEN, borderWidth: 1.8}, z: 5, silent: true,
      markLine: dotted([{yAxis: 0}])}
  ];
}

const txt = (s, x, y, size, opts) => Object.assign({type: 'text', x: x, y: y, silent: true,
  style: Object.assign({text: s, x: 0, y: 0, font: size + 'px ' + FONT, fill: '#000',
    align: 'center', verticalAlign: 'middle', textAlign: 'center', textVerticalAlign: 'middle'}, (opts && opts.style) || {})},
  (opts && opts.el) || {});
const left = {style: {align: 'left', textAlign: 'left'}};
const rot = {el: {rotation: Math.PI / 2}};

const chart = echarts.init(document.getElementById('c'));
chart.setOption({
  animation: false,
  backgroundColor: '#fff',
  grid: [
    {left: 100, top: 80, width: 229, height: 328},
    {left: 398, top: 71, width: 1093, height: 342},
    {left: 100, top: 578, width: 229, height: 329},
    {left: 398, top: 575, width: 1093, height: 342}
  ],
  xAxis: [
    mkX(0, -2, 1.5, allanXTicks, 'bottom', true, 5, 9),
    mkX(0, -2, 1.5, allanXTicks, 'top', false, 5, 9),
    mkX(1, T0, T1, yearTicks, 'bottom', true, 10, 10),
    mkX(1, T0, T1, yearTicks, 'top', false, 10, 10),
    mkX(2, -2, 1.5, allanXTicks, 'bottom', true, 5, 9),
    mkX(2, -2, 1.5, allanXTicks, 'top', false, 5, 9),
    mkX(3, T0, T1, yearTicks, 'bottom', true, 10, 10),
    mkX(3, T0, T1, yearTicks, 'top', false, 10, 10)
  ],
  yAxis: [
    mkY(0, -4, 1, 1, 'left', true, 5, 8, true),
    mkY(0, -4, 1, 1, 'right', false, 5, 8, true),
    mkY(1, -5, 5, 5, 'left', true, 8, 6, true),
    mkY(1, -5, 5, 5, 'right', false, 8, 6, false),
    mkY(2, -4, 1, 1, 'left', true, 5, 8, true),
    mkY(2, -4, 1, 1, 'right', false, 5, 8, true),
    mkY(3, -5, 5, 5, 'left', true, 8, 6, true),
    mkY(3, -5, 5, 5, 'right', false, 8, 6, false)
  ],
  series: [].concat(
    allanSeries(0, raAllanV, raAllanLo, raAllanHi, BLUE),
    tsSeries(2, raEarly.concat(raMid, raMid2, raLate, raLate2), raAnnual, raEllipse, BLUE),
    allanSeries(4, decAllanV, decAllanLo, decAllanHi, RED),
    tsSeries(6, decEarly.concat(decMid, decMid2, decLate, decLate2), decAnnual, decEllipse, RED)
  ),
  graphic: [
    txt('Allan variance', 215, 42, 46),
    txt('RA (mas) \u2013 3C418', 950, 31, 48),
    txt('Allan variance', 215, 540, 46),
    txt('DEC (mas) \u2013 3C418', 950, 533, 48),
    txt('log10 \u03c3', 40, 252, 31, rot),
    txt('2', 24, 191, 21, rot),
    txt('log10 \u03c3', 40, 749, 31, rot),
    txt('2', 24, 688, 21, rot),
    txt('log10 \u03c4', 215, 957, 31),
    txt('1 year', 206, 139, 22, rot),
    txt('1 year', 205, 637, 22, rot),
    txt('500 \u03bcas', 251, 207, 23, left),
    txt('100 \u03bcas', 251, 298, 23, left),
    txt('500 \u03bcas', 251, 703, 23, left),
    txt('100 \u03bcas', 251, 795, 23, left),
    txt('Number of points : 1105', 418, 122, 24, left),
    txt('Annual (20)', 418, 157, 24, left)
  ]
});
</script></body></html>
